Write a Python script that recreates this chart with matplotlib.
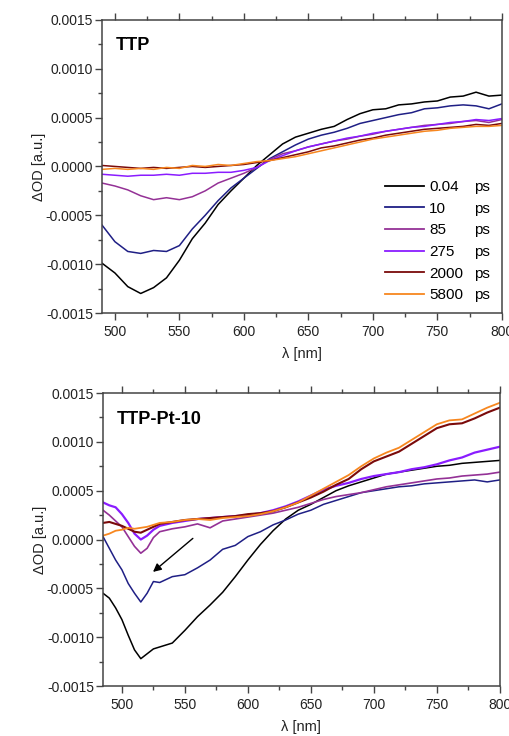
import numpy as np
import matplotlib
matplotlib.use('Agg')
import matplotlib.pyplot as plt
from matplotlib.ticker import MultipleLocator, FormatStrFormatter
from matplotlib.lines import Line2D

plt.rcParams['font.family'] = ['Liberation Sans', 'DejaVu Sans']

ESCALA = 1e-4  # los valores están en unidades de 1e-4

tiempos = ['0.04', '10', '85', '275', '2000', '5800']
colores = ['#000000', '#1f1f85', '#943196', '#8a1cff', '#7a0a0a', '#f7871f']

# panel superior: TTP
lam_ttp = np.arange(490, 801, 10)
ttp_004 = [-9.9, -10.9, -12.3, -13.0, -12.4, -11.4, -9.6, -7.4, -5.8, -3.9,
           -2.5, -1.2, 0.1, 1.2, 2.3, 3.0, 3.4, 3.8, 4.1, 4.8, 5.4, 5.8, 5.9,
           6.3, 6.4, 6.6, 6.7, 7.1, 7.2, 7.6, 7.2, 7.3]
ttp_10 = [-6.0, -7.7, -8.7, -8.9, -8.6, -8.7, -8.1, -6.4, -5.0, -3.5, -2.2,
          -1.2, -0.2, 0.8, 1.5, 2.2, 2.8, 3.2, 3.5, 3.9, 4.4, 4.7, 5.0, 5.3,
          5.5, 5.9, 6.0, 6.2, 6.3, 6.2, 5.9, 6.4]
ttp_85 = [-1.7, -2.0, -2.4, -3.0, -3.4, -3.2, -3.4, -3.1, -2.5, -1.7, -1.2,
          -0.7, -0.1, 0.7, 1.3, 1.6, 2.0, 2.3, 2.6, 2.8, 3.1, 3.3, 3.6, 3.8,
          4.0, 4.2, 4.3, 4.4, 4.6, 4.7, 4.5, 4.8]
ttp_275 = [-0.8, -0.9, -1.0, -0.9, -0.9, -0.8, -0.9, -0.7, -0.7, -0.6, -0.6,
           -0.4, -0.1, 0.6, 1.1, 1.6, 2.0, 2.3, 2.6, 2.9, 3.1, 3.4, 3.6, 3.8,
           4.0, 4.1, 4.3, 4.5, 4.6, 4.8, 4.7, 4.9]
ttp_2000 = [0.1, 0.0, -0.1, -0.2, -0.1, -0.2, -0.1, 0.0, -0.1, 0.0, 0.1, 0.2,
            0.4, 0.6, 0.9, 1.2, 1.5, 1.9, 2.1, 2.4, 2.7, 2.9, 3.2, 3.4, 3.6,
            3.8, 3.9, 4.0, 4.1, 4.3, 4.2, 4.4]
ttp_5800 = [-0.3, -0.2, -0.3, -0.2, -0.3, -0.1, -0.2, 0.1, 0.0, 0.2, 0.1, 0.3,
            0.5, 0.6, 0.8, 1.0, 1.3, 1.6, 1.9, 2.2, 2.5, 2.8, 3.0, 3.2, 3.4,
            3.6, 3.7, 3.9, 4.0, 4.1, 4.1, 4.2]

# panel inferior: TTP-Pt-10
lam_pt = np.array([485, 490, 495, 500, 505, 510, 515, 520, 525, 530] +
                  list(range(540, 801, 10)))
pt_004 = [-5.5, -6.0, -7.0, -8.2, -9.8, -11.3, -12.2, -11.7, -11.2, -11.0,
          -10.6, -9.3, -7.9, -6.7, -5.4, -3.8, -2.1, -0.5, 0.9, 2.1, 3.0, 3.6,
          4.3, 5.0, 5.5, 5.9, 6.3, 6.7, 6.9, 7.1, 7.3, 7.5, 7.6, 7.8, 7.9, 8.0,
          8.1]
pt_10 = [0.3, -0.9, -2.1, -3.1, -4.5, -5.5, -6.4, -5.5, -4.3, -4.4, -3.8,
         -3.6, -2.9, -2.1, -1.0, -0.6, 0.3, 0.8, 1.5, 2.0, 2.6, 3.0, 3.6, 4.0,
         4.4, 4.8, 5.0, 5.2, 5.4, 5.5, 5.7, 5.8, 5.9, 6.0, 6.1, 5.9, 6.1]
pt_85 = [3.0, 2.5, 1.9, 1.3, 0.3, -0.7, -1.4, -0.9, 0.2, 0.8, 1.1, 1.3, 1.6,
         1.2, 1.9, 2.1, 2.3, 2.5, 2.7, 3.0, 3.3, 3.7, 4.1, 4.4, 4.6, 4.8, 5.1,
         5.4, 5.6, 5.8, 6.0, 6.2, 6.3, 6.5, 6.6, 6.7, 6.9]
pt_275 = [3.8, 3.5, 3.3, 2.6, 1.7, 0.6, 0.0, 0.4, 1.0, 1.4, 1.7, 1.9, 2.1,
          2.2, 2.3, 2.4, 2.5, 2.7, 3.0, 3.4, 3.9, 4.5, 5.1, 5.5, 5.8, 6.2, 6.5,
          6.7, 6.9, 7.2, 7.4, 7.7, 8.1, 8.4, 8.9, 9.2, 9.5]
pt_2000 = [1.7, 1.8, 1.6, 1.4, 1.1, 0.8, 0.7, 1.0, 1.3, 1.6, 1.8, 2.0, 2.1,
           2.2, 2.3, 2.4, 2.6, 2.7, 2.9, 3.3, 3.8, 4.3, 4.9, 5.6, 6.2, 7.2,
           8.0, 8.5, 9.0, 9.8, 10.6, 11.4, 11.8, 11.9, 12.4, 13.0, 13.5]
pt_5800 = [0.4, 0.6, 0.9, 1.0, 1.2, 1.1, 1.2, 1.3, 1.5, 1.7, 1.8, 2.0, 2.1,
           2.0, 2.2, 2.3, 2.4, 2.6, 2.9, 3.3, 3.8, 4.5, 5.2, 5.9, 6.6, 7.5,
           8.3, 8.9, 9.4, 10.2, 11.0, 11.8, 12.2, 12.3, 12.9, 13.5, 14.0]

# flecha (evolución temporal)
flecha_inicio = (558, 0.00003)
flecha_fin = (523, -0.00035)


def estilo_eje(ax, xmin, titulo):
    """ejes con ticks hacia fuera, arriba y a la izquierda"""
    ax.set_xlim(xmin, 800)
    ax.set_ylim(-0.0015, 0.0015)
    ax.xaxis.set_major_locator(MultipleLocator(50))
    ax.xaxis.set_minor_locator(MultipleLocator(25))
    ax.yaxis.set_major_locator(MultipleLocator(0.0005))
    ax.yaxis.set_minor_locator(MultipleLocator(0.00025))
    ax.yaxis.set_major_formatter(FormatStrFormatter('%.4f'))
    ax.tick_params(which='both', direction='out', top=True, right=False,
                   color='#444444', labelsize=10, labelcolor='#222222')
    ax.tick_params(axis='y', which='major', pad=1.5)
    ax.tick_params(which='major', length=5, width=1)
    ax.tick_params(which='minor', length=3, width=1)
    for s in ax.spines.values():
        s.set_color('#444444')
        s.set_linewidth(1.1)
    ax.set_xlabel('λ [nm]', fontsize=10.5, color='#222222', labelpad=6)
    ax.set_ylabel('ΔOD [a.u.]', fontsize=10.5, color='#222222', labelpad=0)
    ax.text(0.035, 0.94, titulo, transform=ax.transAxes, fontsize=13,
            fontweight='bold', va='top', ha='left')


fig = plt.figure(figsize=(5.1, 7.36), dpi=100)
ax1 = fig.add_axes([0.200, 0.5747, 0.784, 0.3983])
ax2 = fig.add_axes([0.202, 0.0679, 0.778, 0.3981])

series_ttp = [ttp_004, ttp_10, ttp_85, ttp_275, ttp_2000, ttp_5800]
series_pt = [pt_004, pt_10, pt_85, pt_275, pt_2000, pt_5800]
grosor_pt = [1.1, 1.1, 1.2, 1.6, 1.5, 1.3]

for v, c in zip(series_ttp, colores):
    ax1.plot(lam_ttp, np.array(v) * ESCALA, color=c, lw=1.1)
for v, c, lw in zip(series_pt, colores, grosor_pt):
    ax2.plot(lam_pt, np.array(v) * ESCALA, color=c, lw=lw)

estilo_eje(ax1, 490, 'TTP')
estilo_eje(ax2, 485, 'TTP-Pt-10')

# leyenda en dos columnas: números y 'ps'
h_lin = [Line2D([], [], color=c, lw=1.3) for c in colores]
h_vacio = [Line2D([], [], color='none') for _ in colores]
ax1.legend(h_lin + h_vacio, tiempos + ['ps'] * len(tiempos), ncol=2,
           loc='lower right', bbox_to_anchor=(0.97, 0.037), frameon=False,
           fontsize=11, handlelength=2.55, handletextpad=0.35,
           columnspacing=-2.2, labelspacing=0.5, borderpad=0,
           borderaxespad=0)

ax2.annotate('', xy=flecha_fin, xytext=flecha_inicio,
             arrowprops=dict(arrowstyle='-|>', color='black', lw=1.0,
                             mutation_scale=12))

fig.savefig('out.png', dpi=100)
plt.close('all')
